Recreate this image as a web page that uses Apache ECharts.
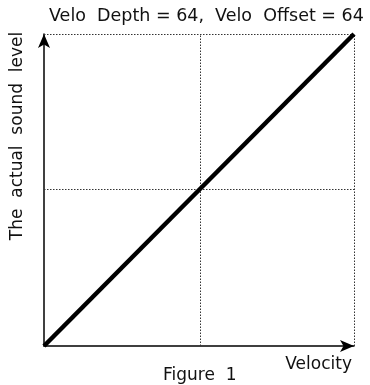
<!DOCTYPE html>
<html>
<head>
<meta charset="utf-8">
<script src="https://cdn.jsdelivr.net/npm/echarts@6/dist/echarts.min.js"></script>
<style>
  html, body { margin: 0; padding: 0; background: #fff; }
  #chart { width: 370px; height: 385px; }
</style>
</head>
<body>
<div id="chart"></div>
<script>
// Velocity curve: input velocity vs. resulting sound level
const velocity = [0, 127];
const soundLevel = [0, 127];
// Reference lines (centre and full scale)
const guideX = [64, 127];
const guideY = [64, 127];

const titleText = 'Velo  Depth = 64,  Velo  Offset = 64';
const captionText = 'Figure  1';
const xName = 'Velocity';
const yName = 'The  actual  sound  level';

const font = 'DejaVu Sans';
const ink = '#111';
const dotted = { color: '#333', type: [1.5, 1.5], width: 1 };

const chart = echarts.init(document.getElementById('chart'), null, { renderer: 'canvas' });
chart.setOption({
  animation: false,
  backgroundColor: '#fff',
  title: {
    text: titleText, left: 44, top: 2,
    textStyle: { fontFamily: font, fontSize: 17.5, fontWeight: 'normal', color: ink }
  },
  graphic: [
    { type: 'text', left: 163, top: 367,
      style: { text: captionText, font: '17px "DejaVu Sans"', fill: ink } },
    { type: 'text', x: 18, y: 136, rotation: Math.PI / 2,
      style: { text: yName, font: '17px "DejaVu Sans"', fill: ink, align: 'center', verticalAlign: 'middle' } }
  ],
  grid: { left: 44, right: 16, top: 34, bottom: 39 },
  xAxis: {
    type: 'value', min: 0, max: 127,
    name: xName, nameLocation: 'end', nameGap: -2,
    nameTextStyle: { fontFamily: font, fontSize: 17, color: ink,
      align: 'right', verticalAlign: 'top', padding: [10, 0, 0, 0] },
    axisLine: { lineStyle: { color: '#000', width: 1.5 }, symbol: ['none', 'arrow'], symbolSize: [9, 14] },
    axisTick: { show: false }, axisLabel: { show: false }, splitLine: { show: false }
  },
  yAxis: {
    type: 'value', min: 0, max: 127,
    axisLine: { lineStyle: { color: '#000', width: 1.5 }, symbol: ['none', 'arrow'], symbolSize: [9, 14] },
    axisTick: { show: false }, axisLabel: { show: false }, splitLine: { show: false }
  },
  series: [{
    type: 'line',
    data: velocity.map((v, i) => [v, soundLevel[i]]),
    symbol: 'none',
    lineStyle: { color: '#000', width: 4.5 },
    z: 5,
    markLine: {
      silent: true, symbol: 'none', label: { show: false },
      lineStyle: dotted,
      data: guideX.map(x => ({ xAxis: x })).concat(guideY.map(y => ({ yAxis: y })))
    }
  }]
});
</script>
</body>
</html>
